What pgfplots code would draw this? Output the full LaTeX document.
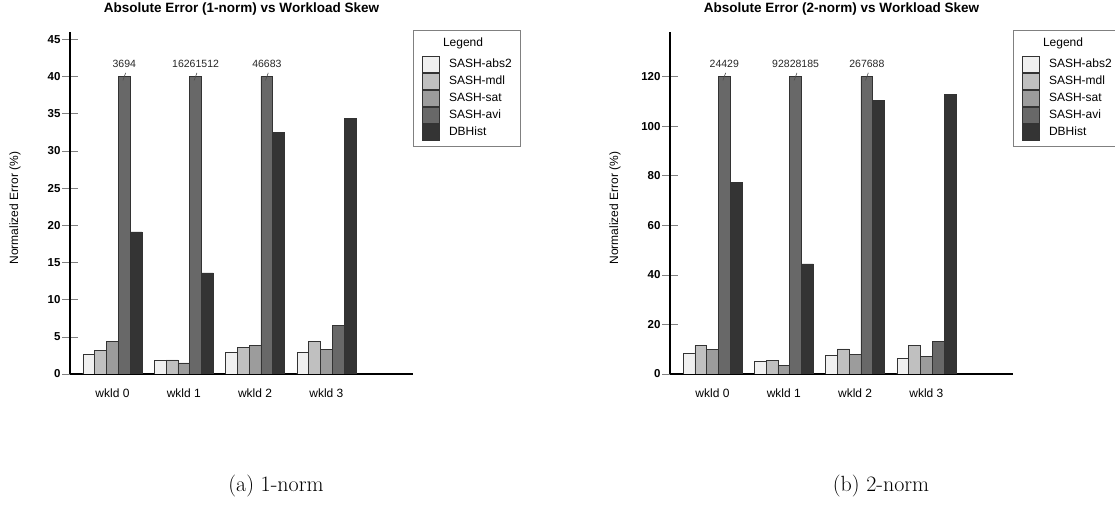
\documentclass[border=0pt]{standalone}
\usepackage{pgfplots}
\pgfplotsset{compat=1.18}
\usepackage{fontspec}
\newfontfamily\chartfont{Liberation Sans}

\definecolor{cabs}{HTML}{F0F0F0}
\definecolor{cmdl}{HTML}{C0C0C0}
\definecolor{csat}{HTML}{9C9C9C}
\definecolor{cavi}{HTML}{686868}
\definecolor{cdbh}{HTML}{343434}

\pgfplotsset{
  skewchart/.style={
    scale only axis,
    width=343pt, height=342pt,
    anchor=south west,
    xmin=-0.596, xmax=4.215, ymin=0,
    axis x line*=bottom, axis y line*=left,
    axis line style={line width=1.6pt, black},
    xtick={0,1,2,3},
    xticklabels={wkld 0, wkld 1, wkld 2, wkld 3},
    x tick style={draw=none},
    y tick style={gray, line width=0.6pt},
    tick align=center,
    major tick length=16pt,
    /pgf/number format/assume math mode=true,
    yticklabel style={font=\chartfont\fontsize{11.5}{13}\selectfont\bfseries, xshift=2pt},
    xticklabel style={font=\chartfont\fontsize{12}{14}\selectfont, yshift=-3pt},
    ylabel={Normalized Error (\%)},
    ylabel style={font=\chartfont\fontsize{12}{14}\selectfont, at={(axis description cs:-0.16,0.485)}, anchor=center},
    title style={font=\chartfont\fontsize{13.5}{16}\selectfont\bfseries, at={(axis description cs:0.5,1.067)}, anchor=center, yshift=-6pt},
    legend cell align=left,
    legend style={at={(axis description cs:1.0,1.005)}, anchor=north west,
      draw=gray, line width=0.8pt, fill=white,
      font=\chartfont\fontsize{12}{14}\selectfont,
      inner xsep=9pt, inner ysep=6pt, row sep=0pt, column sep=9pt,
      nodes={inner sep=0pt}},
  },
  swatch/.style={legend image code/.code={\draw[##1] (0pt,-8.2pt) rectangle (17pt,8.2pt);}},
  titlerow/.style={legend image code/.code={\path[draw=none, fill=none] (0pt,-13pt) rectangle (17pt,6pt);}},
  skewbar/.style={ybar, bar width=0.1655, draw=black!80, line width=0.6pt, swatch},
  breakmark/.style={only marks, mark=|, mark size=4pt,
    mark options={rotate=-20, draw=black!70, line width=0.6pt},
    point meta=explicit symbolic, nodes near coords,
    nodes near coords style={font=\chartfont\fontsize{10.5}{12}\selectfont, anchor=center, yshift=13pt, text=black!85},
    forget plot},
}

\begin{document}
\begin{tikzpicture}
\useasboundingbox (0,0) rectangle (1115pt,508pt);
\clip (0,0) rectangle (1115pt,508pt);

\begin{axis}[skewchart, at={(70pt,134pt)}, ymax=46,
  ytick={0,5,...,45},
  title={Absolute Error (1-norm) vs Workload Skew}]
\addlegendimage{titlerow}
\addlegendentry{\chartfont\hspace{-6pt}Legend}
\addplot[skewbar, bar shift=-0.331, fill=cabs] coordinates {(0,2.6) (1,1.8) (2,2.9) (3,2.9)};
\addlegendentry{SASH-abs2}
\addplot[skewbar, bar shift=-0.1655, fill=cmdl] coordinates {(0,3.2) (1,1.9) (2,3.6) (3,4.4)};
\addlegendentry{SASH-mdl}
\addplot[skewbar, bar shift=0, fill=csat] coordinates {(0,4.4) (1,1.5) (2,3.8) (3,3.3)};
\addlegendentry{SASH-sat}
\addplot[skewbar, bar shift=0.1655, fill=cavi] coordinates {(0,40) (1,40) (2,40) (3,6.5)};
\addlegendentry{SASH-avi}
\addplot[skewbar, bar shift=0.331, fill=cdbh] coordinates {(0,19.1) (1,13.6) (2,32.5) (3,34.4)};
\addlegendentry{DBHist}
\addplot[breakmark] coordinates {(0.1655,40) [3694] (1.1655,40) [16261512] (2.1655,40) [46683]};
\end{axis}

\begin{axis}[skewchart, at={(670pt,134pt)}, ymax=138,
  ytick={0,20,...,120},
  title={Absolute Error (2-norm) vs Workload Skew}]
\addlegendimage{titlerow}
\addlegendentry{\chartfont\hspace{-6pt}Legend}
\addplot[skewbar, bar shift=-0.331, fill=cabs] coordinates {(0,8.3) (1,5.0) (2,7.4) (3,6.3)};
\addlegendentry{SASH-abs2}
\addplot[skewbar, bar shift=-0.1655, fill=cmdl] coordinates {(0,11.4) (1,5.5) (2,10.1) (3,11.7)};
\addlegendentry{SASH-mdl}
\addplot[skewbar, bar shift=0, fill=csat] coordinates {(0,9.9) (1,3.6) (2,7.8) (3,7.2)};
\addlegendentry{SASH-sat}
\addplot[skewbar, bar shift=0.1655, fill=cavi] coordinates {(0,120) (1,120) (2,120) (3,13.3)};
\addlegendentry{SASH-avi}
\addplot[skewbar, bar shift=0.331, fill=cdbh] coordinates {(0,77.4) (1,44.4) (2,110.5) (3,112.8)};
\addlegendentry{DBHist}
\addplot[breakmark] coordinates {(0.1655,120) [24429] (1.1655,120) [92828185] (2.1655,120) [267688]};
\end{axis}

\node[font=\fontsize{22}{26}\selectfont] at (276pt,22pt) {(a) 1-norm};
\node[font=\fontsize{22}{26}\selectfont] at (881pt,22pt) {(b) 2-norm};
\end{tikzpicture}
\end{document}
